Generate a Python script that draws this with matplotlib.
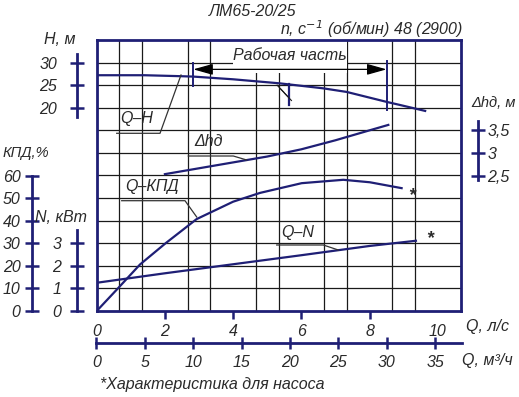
import numpy as np
import matplotlib
matplotlib.use('Agg')
import matplotlib.pyplot as plt
from matplotlib.lines import Line2D
from matplotlib.patches import Rectangle

# values, Q in l/s
q_h = [0, 1.4, 2.4, 2.83, 4.0, 5.37, 6.64, 7.33, 8.5, 8.9, 9.63]
head = [27.2, 27.2, 27.0, 26.9, 26.3, 25.4, 24.3, 23.5, 21.3, 20.6, 19.3]

q_npsh = [2.0, 3.0, 4.0, 5.0, 6.0, 7.0, 8.0, 8.55]
npsh = [2.53, 2.66, 2.79, 2.92, 3.08, 3.28, 3.50, 3.62]

q_eff = [0, 0.59, 1.27, 2.02, 2.93, 4.0, 4.79, 6.01, 7.23, 8.01, 8.94]
eff = [0, 9.5, 20.6, 30, 40.7, 48.4, 52.3, 56.6, 58.1, 57.0, 54.4]

q_pow = [0, 2.0, 4.0, 6.0, 8.0, 9.36]
power = [1.25, 1.67, 2.07, 2.47, 2.88, 3.11]

work_range = [2.83, 8.5]
nominal_q = 5.65

ls_ticks = [0, 2, 4, 6, 8, 10]
m3h_ticks = [0, 5, 10, 15, 20, 25, 30, 35]
h_ticks = [20, 25, 30]
eff_ticks = [0, 10, 20, 30, 40, 50, 60]
pow_ticks = [0, 1, 2, 3]
npsh_ticks = [2.5, 3, 3.5]
npsh_labels = ['2,5', '3', '3,5']

NAVY = '#1f1f75'
TXT = '#2a2a2a'
GRID = '#1a1a1a'
FS = 11.5

plt.rcParams['font.family'] = ['Liberation Sans', 'DejaVu Sans']
plt.rcParams['font.style'] = 'italic'
plt.rcParams['mathtext.default'] = 'it'

W, HP = 519, 397
fig = plt.figure(figsize=(5.19, 3.97), dpi=100)


def fx(x):
    return x / W


def fy(y):
    return 1 - y / HP


# main grid, y in H units (5 m per row)
ax = fig.add_axes([fx(96.7), fy(311), (460.5 - 96.7) / W, (311 - 40) / HP])
ax.set_xlim(0, 16 * 2 / 3)
ax.set_ylim(-25, 35)
ax.set_xticks(np.arange(1, 16) * 2 / 3, minor=True)
ax.set_yticks(np.arange(-20, 35, 5), minor=True)
ax.set_yticks([])
ax.grid(which='minor', color=GRID, lw=0.9)
ax.tick_params(which='minor', length=0)
ax.set_xticks(ls_ticks)
ax.tick_params(axis='x', direction='out', length=6, width=1.8, color=NAVY,
               labelsize=FS, labelcolor=TXT, pad=3)
ax.xaxis.get_major_ticks()[0].tick1line.set_visible(False)
ax.xaxis.get_major_ticks()[-1].tick1line.set_visible(False)
for s in ax.spines.values():
    s.set_color(NAVY)
    s.set_linewidth(2)

ax.plot(q_h, head, color=NAVY, lw=1.6, zorder=3)


def side_axis(pos, lim, ticks, bounds, side, pad):
    t = ax.twinx()
    t.set_ylim(lim)
    for s in t.spines.values():
        s.set_visible(False)
    sp = t.spines[side]
    sp.set_visible(True)
    sp.set_position(('axes', pos))
    sp.set_bounds(*bounds)
    sp.set_color(NAVY)
    sp.set_linewidth(2)
    t.yaxis.set_ticks_position(side)
    t.yaxis.set_label_position(side)
    t.set_yticks(ticks)
    t.tick_params(axis='y', direction='inout', length=10, width=1.8, color=NAVY,
                  labelsize=FS, labelcolor=TXT, pad=pad)
    return t


aw = 460.5 - 96.7
axh = side_axis((76.7 - 96.7) / aw, (-25, 35), h_ticks, (18, 32), 'left', 9)
axe = side_axis((31.7 - 96.7) / aw, (0, 120), eff_ticks, (0, 60), 'left', 3)
axn = side_axis((76.7 - 96.7) / aw, (0, 12), pow_ticks, (0, 3.6), 'left', 6)
axd = side_axis((477.7 - 96.7) / aw, (-0.5, 5.5), npsh_ticks, (2.4, 3.7), 'right', 2)
axd.set_yticklabels(npsh_labels)

axd.plot(q_npsh, npsh, color=NAVY, lw=1.6, zorder=3)
axe.plot(q_eff, eff, color=NAVY, lw=1.6, zorder=3)
axn.plot(q_pow, power, color=NAVY, lw=1.6, zorder=3)

# working part
ax.add_patch(Rectangle((4.0, 27.7), 10 / 3, 7.3, facecolor='white', edgecolor='none', zorder=2))
ax.annotate('', xy=(work_range[0], 28.5), xytext=(work_range[1], 28.5),
            arrowprops=dict(arrowstyle='<|-|>,head_length=1.0,head_width=0.28',
                            color='black', lw=0.9, shrinkA=0, shrinkB=0,
                            mutation_scale=12), zorder=4)
ax.plot([work_range[0]] * 2, [29.8, 24.9], color=NAVY, lw=1.4, zorder=3)
ax.plot([work_range[1]] * 2, [30.4, 19.6], color=NAVY, lw=1.4, zorder=3)
ax.plot([nominal_q] * 2, [25.3, 20.6], color=NAVY, lw=1.6, zorder=3)
for k in range(3):
    x0 = nominal_q - 0.36 + k * 0.11
    ax.plot([x0, x0 + 0.2], [25.0 - k * 0.9, 23.4 - k * 0.9], color=GRID, lw=0.8, zorder=3)
fig.text(fx(290), fy(55), 'Рабочая часть', ha='center', va='center', fontsize=FS, color=TXT)

# m3/h scale
ax3 = fig.add_axes([fx(96.3), fy(343.3), (461.7 - 96.3) / W, 1e-4])
ax3.set_xlim(0, (461.7 - 96.3) / 9.68)
ax3.set_yticks([])
ax3.patch.set_visible(False)
for k in ['top', 'left', 'right']:
    ax3.spines[k].set_visible(False)
ax3.spines['bottom'].set_color(NAVY)
ax3.spines['bottom'].set_linewidth(2)
ax3.set_xticks(m3h_ticks)
ax3.tick_params(axis='x', direction='inout', length=9, width=1.8, color=NAVY,
                labelsize=FS, labelcolor=TXT, pad=4)


# labels
def label(x, y, s, size=FS, ha='center', **kw):
    fig.text(fx(x), fy(y), s, ha=ha, va='center', fontsize=size, color=TXT, **kw)


label(253, 12, 'ЛМ65-20/25')
label(372, 29, 'n, с$^{-1}$ (об/мин) 48 (2900)')
label(60, 40, 'H, м')
label(26, 153, 'КПД,%', size=10.5)
label(61, 217, 'N, кВт')
label(493, 103, 'Δhд, м', size=10.5)
label(487, 327, 'Q, л/с')
label(487, 361, 'Q, м³/ч')
label(100, 384, '*Характеристика для насоса', ha='left')
label(137, 119, 'Q–H')
label(209, 142, 'Δhд')
label(152, 186, 'Q–КПД')
label(298, 232, 'Q–N')
label(411.7, 196, '*', size=13, weight='bold')
label(429.3, 239, '*', size=13, weight='bold')

leaders = [
    [(116.7, 133.3), (160, 133.3), (181, 75)],
    [(188.3, 156), (233.3, 156), (246.7, 160)],
    [(121.7, 200.7), (185, 200.7), (196.7, 217)],
    [(276.7, 245), (323.3, 245), (338.3, 250)],
]
for pts in leaders:
    xs = [fx(p[0]) for p in pts]
    ys = [fy(p[1]) for p in pts]
    fig.add_artist(Line2D(xs, ys, color='#333333', lw=0.9, transform=fig.transFigure))

fig.savefig('out.png', dpi=100)
